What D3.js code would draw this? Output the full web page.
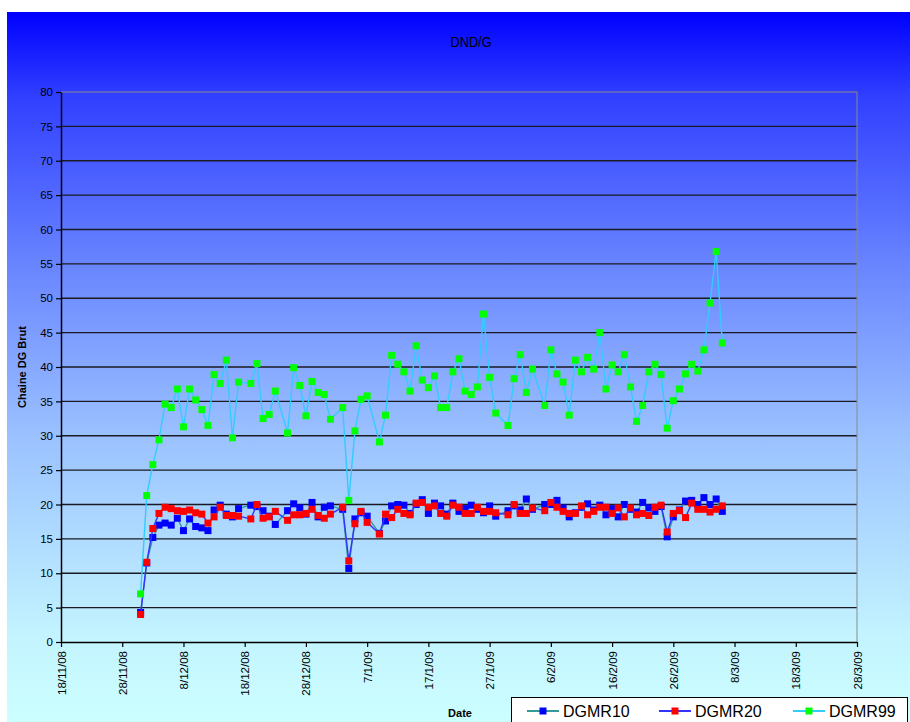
<!DOCTYPE html>
<html>
<head>
<meta charset="utf-8">
<script src="https://cdn.jsdelivr.net/npm/d3@7"></script>
<style>
  body { margin: 0; background: #fff; }
  svg { display: block; }
  text { font-family: "Liberation Sans", Arial, sans-serif; }
</style>
</head>
<body>
<svg id="chart" width="910" height="722"></svg>
<script>
// Sampling dates (d/m/yy)
const dates = [
  "1/12/08","2/12/08","3/12/08","4/12/08","5/12/08","6/12/08","7/12/08","8/12/08","9/12/08","10/12/08",
  "11/12/08","12/12/08","13/12/08","14/12/08","15/12/08","16/12/08","17/12/08",
  "19/12/08","20/12/08","21/12/08","22/12/08","23/12/08",
  "25/12/08","26/12/08","27/12/08","28/12/08","29/12/08","30/12/08","31/12/08","1/1/09",
  "3/1/09","4/1/09","5/1/09","6/1/09","7/1/09",
  "9/1/09","10/1/09","11/1/09","12/1/09","13/1/09","14/1/09","15/1/09","16/1/09","17/1/09","18/1/09",
  "19/1/09","20/1/09","21/1/09","22/1/09","23/1/09","24/1/09","25/1/09","26/1/09","27/1/09","28/1/09",
  "30/1/09","31/1/09","1/2/09","2/2/09","3/2/09",
  "5/2/09","6/2/09","7/2/09","8/2/09","9/2/09","10/2/09","11/2/09","12/2/09","13/2/09","14/2/09",
  "15/2/09","16/2/09","17/2/09","18/2/09","19/2/09","20/2/09","21/2/09","22/2/09","23/2/09","24/2/09",
  "25/2/09","26/2/09","27/2/09","28/2/09","1/3/09","2/3/09","3/3/09","4/3/09","5/3/09","6/3/09"
];

const dgmr10 = [
  4.3, 11.5, 15.2, 17.0, 17.3, 17.0, 18.0, 16.2, 17.9, 16.8, 16.6, 16.2, 19.2, 19.9, 18.6, 18.2, 19.4,
  19.9, 19.7, 19.1, 18.3, 17.1,
  19.1, 20.1, 19.5, 18.6, 20.3, 18.2, 19.6, 19.8,
  19.3, 10.7, 17.9, 18.8, 18.3,
  15.8, 17.6, 19.8, 20.0, 19.9, 18.7, 20.0, 20.7, 18.7, 20.2, 19.8, 18.6, 20.2, 19.0, 19.4, 19.9, 19.3, 18.8, 19.8, 18.3,
  19.1, 19.8, 19.2, 20.8, 19.3,
  20.0, 20.0, 20.6, 19.5, 18.2, 18.8, 19.6, 20.1, 19.2, 19.9, 18.5, 19.4, 18.2, 20.0, 19.3,
  18.9, 20.3, 19.5, 19.0, 19.7, 15.3, 18.2, 19.2, 20.5, 20.6, 20.0, 21.0, 20.0, 20.8, 19.0
];

const dgmr20 = [
  4.0, 11.6, 16.5, 18.7, 19.6, 19.4, 19.1, 19.0, 19.2, 18.8, 18.6, 17.3, 18.2, 19.6, 18.4, 18.4, 18.3,
  17.9, 20.0, 18.0, 18.2, 19.0,
  17.7, 18.5, 18.5, 18.7, 19.3, 18.4, 18.0, 18.6,
  19.6, 11.8, 17.2, 19.0, 17.4,
  15.7, 18.6, 18.1, 19.3, 18.7, 18.5, 20.2, 20.3, 19.6, 19.8, 18.7, 18.3, 19.9, 19.6, 18.7, 18.7, 19.6, 19.0, 19.0, 18.8,
  18.5, 20.0, 18.7, 18.7, 19.5,
  19.1, 20.3, 19.6, 19.0, 18.7, 18.7, 19.8, 18.5, 19.0, 19.6, 19.6, 18.7, 19.5, 18.2, 19.5,
  18.5, 18.7, 18.4, 19.6, 19.9, 16.0, 18.7, 19.1, 18.1, 20.2, 19.3, 19.3, 18.9, 19.3, 19.8
];

const dgmr99 = [
  7.0, 21.3, 25.8, 29.4, 34.6, 34.1, 36.8, 31.3, 36.8, 35.2, 33.8, 31.5, 38.9, 37.6, 41.0, 29.7, 37.8,
  37.6, 40.5, 32.5, 33.1, 36.5,
  30.4, 39.9, 37.3, 32.9, 37.9, 36.3, 36.0, 32.4,
  34.1, 20.6, 30.7, 35.3, 35.8,
  29.1, 33.0, 41.7, 40.4, 39.3, 36.5, 43.1, 38.1, 37.0, 38.7, 34.1, 34.1, 39.3, 41.2, 36.5, 36.0, 37.1, 47.7, 38.5, 33.3,
  31.5, 38.3, 41.8, 36.3, 39.7,
  34.4, 42.5, 39.0, 37.8, 33.0, 41.0, 39.3, 41.4, 39.7, 45.0, 36.8, 40.3, 39.3, 41.8, 37.1,
  32.1, 34.4, 39.3, 40.4, 38.9, 31.1, 35.1, 36.8, 39.0, 40.4, 39.4, 42.5, 49.3, 56.8, 43.5
];

const seriesNames = ["DGMR10", "DGMR20", "DGMR99"];
const xTickLabels = ["18/11/08","28/11/08","8/12/08","18/12/08","28/12/08","7/1/09","17/1/09",
                     "27/1/09","6/2/09","16/2/09","26/2/09","8/3/09","18/3/09","28/3/09"];
const yTickValues = [0,5,10,15,20,25,30,35,40,45,50,55,60,65,70,75,80];

// Appearance of each series: connecting line colour and marker colour
const seriesStyle = [
  { line: "#339999", marker: "#0000ff" },
  { line: "#3333ff", marker: "#ff0000" },
  { line: "#33ccff", marker: "#00ff00" }
];

const parse = d3.timeParse("%d/%m/%y");
const dateValues = dates.map(parse);
const xTickDates = xTickLabels.map(parse);

const series = [dgmr10, dgmr20, dgmr99].map((vals, i) => ({
  name: seriesNames[i],
  style: seriesStyle[i],
  points: vals.map((v, j) => ({ date: dateValues[j], value: v }))
}));

const svg = d3.select("#chart");
const W = 910, H = 722;
const plot = { left: 61, right: 857, top: 92, bottom: 642 };

// Background gradient (blue at the top fading to pale cyan)
const defs = svg.append("defs");
const grad = defs.append("linearGradient")
  .attr("id", "bg").attr("x1", 0).attr("y1", 0).attr("x2", 0).attr("y2", 1);
[[0, "#0000ff"], [0.12, "#3140ff"], [0.36, "#6a86ff"], [0.6, "#9bc2ff"], [0.88, "#c3f4ff"], [1, "#ccffff"]]
  .forEach(([o, c]) => grad.append("stop").attr("offset", o).attr("stop-color", c));

svg.append("rect").attr("width", W).attr("height", H).attr("fill", "#fff");
svg.append("rect").attr("x", 7).attr("y", 12).attr("width", W - 7).attr("height", H - 12)
  .attr("fill", "url(#bg)");

const x = d3.scaleTime()
  .domain([xTickDates[0], xTickDates[xTickDates.length - 1]])
  .range([plot.left, plot.right]);
const y = d3.scaleLinear().domain([0, 80]).range([plot.bottom, plot.top]);

// Horizontal gridlines
svg.append("g").selectAll("line")
  .data(yTickValues.filter(v => v > 0 && v < 80))
  .join("line")
  .attr("x1", plot.left).attr("x2", plot.right)
  .attr("y1", d => y(d)).attr("y2", d => y(d))
  .attr("stroke", "#1a1a22").attr("stroke-width", 1.4);

// Plot frame (top and right)
svg.append("path")
  .attr("d", `M${plot.left},${y(80)}H${plot.right}V${plot.bottom}`)
  .attr("fill", "none").attr("stroke", "#8a8a8a").attr("stroke-width", 1);

// Y axis
const yAxis = svg.append("g")
  .attr("transform", `translate(${plot.left},0)`)
  .call(d3.axisLeft(y).tickValues(yTickValues).tickSize(5).tickSizeOuter(0).tickPadding(3));
yAxis.select(".domain").attr("stroke", "#000").attr("stroke-width", 1.5);
yAxis.selectAll(".tick line").attr("stroke", "#000").attr("stroke-width", 1.2);
yAxis.selectAll(".tick text")
  .attr("font-size", 11.5).attr("fill", "#000")
  .style("font-family", "'Liberation Sans', Arial, sans-serif");

// X axis with vertical labels
const xAxis = svg.append("g")
  .attr("transform", `translate(0,${plot.bottom})`)
  .call(d3.axisBottom(x).tickValues(xTickDates).tickFormat((d, i) => xTickLabels[i])
    .tickSize(5).tickSizeOuter(0));
xAxis.select(".domain").attr("stroke", "#000").attr("stroke-width", 1.5);
xAxis.selectAll(".tick line").attr("stroke", "#000").attr("stroke-width", 1.2);
xAxis.selectAll(".tick text")
  .attr("transform", "rotate(-90)")
  .attr("text-anchor", "end")
  .attr("x", -9).attr("y", 0).attr("dy", "0.35em")
  .attr("font-size", 11.5).attr("fill", "#000")
  .style("font-family", "'Liberation Sans', Arial, sans-serif");

// Series: line then square markers
const line = d3.line().x(d => x(d.date)).y(d => y(d.value));
const mk = 7;
series.forEach(s => {
  const g = svg.append("g");
  g.append("path").datum(s.points)
    .attr("d", line)
    .attr("fill", "none")
    .attr("stroke", s.style.line)
    .attr("stroke-width", 1.4);
  g.selectAll("rect").data(s.points).join("rect")
    .attr("x", d => x(d.date) - mk / 2)
    .attr("y", d => y(d.value) - mk / 2)
    .attr("width", mk).attr("height", mk)
    .attr("fill", s.style.marker);
});

// Titles
svg.append("text")
  .attr("transform", "translate(471,47) scale(0.88,1)")
  .attr("text-anchor", "middle").attr("font-size", 14.5).attr("fill", "#000")
  .text("DND/G");
svg.append("text")
  .attr("transform", `translate(26,${(plot.top + plot.bottom) / 2}) rotate(-90)`)
  .attr("text-anchor", "middle").attr("font-size", 11).attr("font-weight", "bold").attr("fill", "#000")
  .text("Chaine DG Brut");
svg.append("text").attr("x", 460).attr("y", 717)
  .attr("text-anchor", "middle").attr("font-size", 11).attr("font-weight", "bold").attr("fill", "#000")
  .text("Date");

// Legend
const legend = svg.append("g");
legend.append("rect").attr("x", 511.5).attr("y", 697.5).attr("width", 396).attr("height", 30)
  .attr("fill", "#fff").attr("stroke", "#000").attr("stroke-width", 1);
const legendX = [527, 659, 793];
series.forEach((s, i) => {
  const lx = legendX[i], ly = 711;
  legend.append("line").attr("x1", lx).attr("x2", lx + 32).attr("y1", ly).attr("y2", ly)
    .attr("stroke", s.style.line).attr("stroke-width", 2);
  legend.append("rect").attr("x", lx + 16 - 3.5).attr("y", ly - 3.5).attr("width", 7).attr("height", 7)
    .attr("fill", s.style.marker);
  legend.append("text").attr("x", lx + 36).attr("y", ly + 6)
    .attr("font-size", 16).attr("fill", "#000").text(s.name);
});
</script>
</body>
</html>
